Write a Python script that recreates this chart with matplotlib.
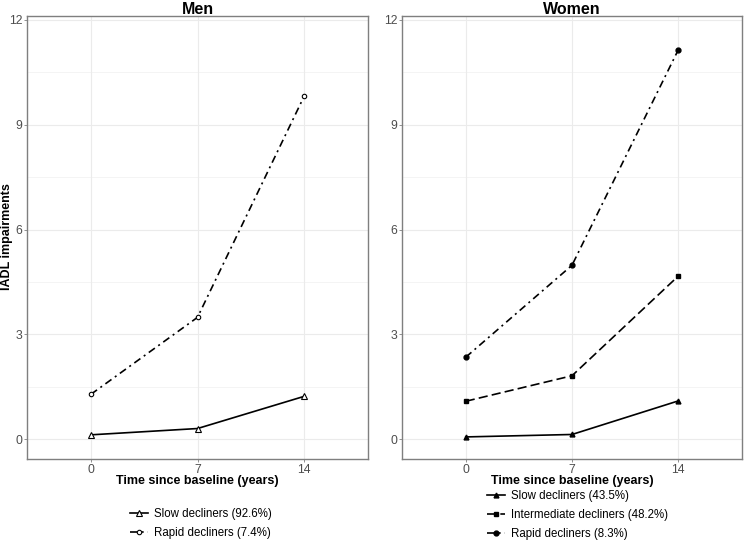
import matplotlib
matplotlib.use("Agg")
import matplotlib.pyplot as plt

plt.rcParams['font.family'] = ['Liberation Sans', 'DejaVu Sans']

time = [0, 7, 14]
time_labels = ["0", "7", "14"]
y_ticks = [0, 3, 6, 9, 12]

men_labels = ["Slow decliners (92.6%)", "Rapid decliners (7.4%)"]
men_slow = [0.13, 0.31, 1.23]
men_rapid = [1.29, 3.49, 9.81]

women_labels = ["Slow decliners (43.5%)", "Intermediate decliners (48.2%)", "Rapid decliners (8.3%)"]
women_slow = [0.07, 0.14, 1.10]
women_inter = [1.09, 1.82, 4.67]
women_rapid = [2.35, 4.98, 11.14]

W, H = 744, 551
fig = plt.figure(figsize=(W / 100, H / 100), dpi=100)

def px_axes(x0, x1, y0, y1):
    return fig.add_axes([x0 / W, 1 - y1 / H, (x1 - x0) / W, (y1 - y0) / H])

axL = px_axes(27, 368, 16, 459.3)
axR = px_axes(402, 742, 16, 459.3)

solid = '-'
dashed = (0, (5.5, 2.5))
dotdash = (0, (4.5, 2.5, 1.2, 2.5))
lw = 1.2

def style(ax, title, cx):
    ax.set_xlim(-4.2, 18.2)
    ax.set_ylim(-0.57, 12.11)
    ax.set_xticks(time)
    ax.set_xticklabels(time_labels)
    ax.set_yticks(y_ticks)
    for y in [1.5, 4.5, 7.5, 10.5]:
        ax.axhline(y, color='#f2f2f2', lw=0.6, zorder=0)
    ax.grid(True, which='major', color='#ebebeb', lw=0.8, zorder=0)
    ax.set_axisbelow(True)
    ax.tick_params(which='major', length=2.5, width=0.6, color='#7f7f7f',
                   labelcolor='#4d4d4d', labelsize=8.8, pad=1)
    for s in ax.spines.values():
        s.set_color('#7f7f7f')
        s.set_linewidth(1.0)
    fig.text(cx / W, 1 - 9 / H, title, fontsize=11.5, fontweight='bold',
             ha='center', va='center')
    ax.set_xlabel("Time since baseline (years)", fontsize=9, fontweight='bold', labelpad=-1)

# Men
l1, = axL.plot(time, men_slow, color='black', lw=lw, ls=solid, marker='^', ms=4,
               mfc='white', mec='black', mew=0.8, label=men_labels[0])
l2, = axL.plot(time, men_rapid, color='black', lw=lw, ls=dotdash, marker='o', ms=3.2,
               mfc='white', mec='black', mew=0.8, label=men_labels[1])
style(axL, "Men", 197.5)
fig.text(7 / W, 1 - 237 / H, "IADL impairments", fontsize=9, fontweight='bold',
         rotation=90, ha='center', va='center')

# Women
w1, = axR.plot(time, women_slow, color='black', lw=lw, ls=solid, marker='^', ms=3.5,
               mfc='black', mec='black', label=women_labels[0])
w2, = axR.plot(time, women_inter, color='black', lw=lw, ls=dashed, marker='s', ms=3.2,
               mfc='black', mec='black', label=women_labels[1])
w3, = axR.plot(time, women_rapid, color='black', lw=lw, ls=dotdash, marker='o', ms=3.5,
               mfc='black', mec='black', label=women_labels[2])
style(axR, "Women", 572)

legkw = dict(loc='upper left', frameon=False, fontsize=8.3, handlelength=1.6,
             handletextpad=0.45, labelspacing=0.62, borderpad=0, borderaxespad=0)
fig.legend(handles=[l1, l2], bbox_to_anchor=(130 / W, 1 - 508 / H), **legkw)
fig.legend(handles=[w1, w2, w3], bbox_to_anchor=(487 / W, 1 - 490 / H), **legkw)

fig.savefig("out.png", dpi=100)
